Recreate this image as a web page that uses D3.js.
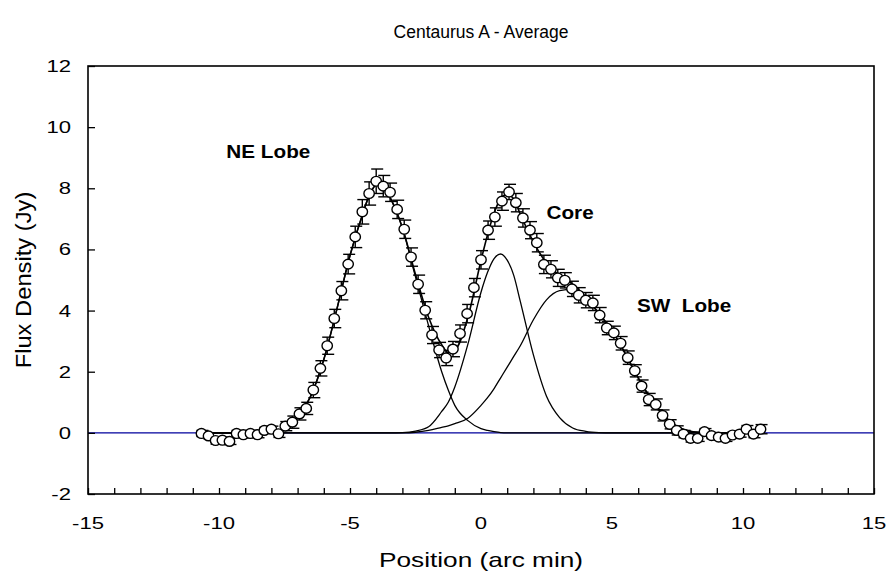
<!DOCTYPE html>
<html>
<head>
<meta charset="utf-8">
<script src="https://cdn.jsdelivr.net/npm/d3@7"></script>
<style>
  html, body { margin: 0; padding: 0; background: #fff; }
  text { font-family: "Liberation Sans", Arial, sans-serif; fill: #000; white-space: pre; }
</style>
</head>
<body>
<div id="chart"></div>
<script>
// measured positions (arc min)
const position = [
  -10.67, -10.40, -10.13, -9.87, -9.60, -9.33, -9.07, -8.80, -8.53, -8.27,
  -8.00, -7.73, -7.47, -7.20, -6.93, -6.67, -6.40, -6.13, -5.87, -5.60,
  -5.33, -5.07, -4.80, -4.53, -4.27, -4.00, -3.73, -3.47, -3.20, -2.93,
  -2.67, -2.40, -2.13, -1.87, -1.60, -1.33, -1.07, -0.80, -0.53, -0.27,
  0.00, 0.27, 0.53, 0.80, 1.07, 1.33, 1.60, 1.87, 2.13, 2.40,
  2.67, 2.93, 3.20, 3.47, 3.73, 4.00, 4.27, 4.53, 4.80, 5.07,
  5.33, 5.60, 5.87, 6.13, 6.40, 6.67, 6.93, 7.20, 7.47, 7.73,
  8.00, 8.27, 8.53, 8.80, 9.07, 9.33, 9.60, 9.87, 10.13, 10.40, 10.67
];
// measured flux density (Jy)
const flux = [
  -0.02, -0.10, -0.25, -0.24, -0.28, -0.02, -0.06, -0.02, -0.06, 0.08,
  0.12, -0.03, 0.22, 0.35, 0.62, 0.80, 1.40, 2.11, 2.85, 3.74,
  4.65, 5.52, 6.41, 7.23, 7.83, 8.23, 8.07, 7.87, 7.31, 6.66,
  5.75, 4.86, 4.01, 3.20, 2.71, 2.45, 2.74, 3.25, 3.90, 4.75,
  5.66, 6.63, 7.06, 7.58, 7.88, 7.53, 7.03, 6.63, 6.22, 5.51,
  5.35, 5.07, 4.99, 4.71, 4.50, 4.34, 4.25, 3.85, 3.43, 3.27,
  2.93, 2.46, 2.03, 1.53, 1.09, 0.93, 0.57, 0.28, 0.08, -0.04,
  -0.18, -0.18, 0.04, -0.09, -0.14, -0.18, -0.07, -0.04, 0.12, -0.04, 0.12
];
// error bars (Jy)
const fluxErr = [
  0.10, 0.10, 0.12, 0.10, 0.10, 0.10, 0.10, 0.10, 0.10, 0.10,
  0.10, 0.12, 0.15, 0.20, 0.20, 0.20, 0.25, 0.25, 0.28, 0.30,
  0.30, 0.32, 0.35, 0.40, 0.38, 0.40, 0.35, 0.30, 0.30, 0.30,
  0.30, 0.30, 0.28, 0.28, 0.25, 0.25, 0.25, 0.28, 0.30, 0.30,
  0.30, 0.30, 0.30, 0.30, 0.25, 0.30, 0.30, 0.28, 0.30, 0.30,
  0.28, 0.28, 0.25, 0.25, 0.25, 0.25, 0.25, 0.25, 0.22, 0.22,
  0.22, 0.22, 0.20, 0.20, 0.20, 0.18, 0.18, 0.15, 0.15, 0.12,
  0.12, 0.10, 0.10, 0.10, 0.10, 0.10, 0.10, 0.10, 0.12, 0.12, 0.15
];

// fitted curves
const fitX = [
  -10.7, -10, -9.5, -9, -8.5, -8, -7.5, -7, -6.5, -6, -5.5, -5, -4.5, -4.25, -4, -3.75, -3.5,
  -3, -2.5, -2, -1.5, -1.25, -1, -0.5, 0, 0.25, 0.5, 0.75, 1, 1.25, 1.5, 2, 2.5, 3, 3.5, 4, 4.5, 5,
  5.5, 6, 6.5, 7, 7.5, 8, 8.5, 9, 9.5, 10, 10.7
];
const fitTotal = [
  0, 0, 0, 0, 0.01, 0.04, 0.15, 0.5, 1.2, 2.4, 4.05, 5.8, 7.2, 7.8, 8.1, 8.1, 7.75,
  6.71, 5.18, 3.78, 2.88, 2.63, 2.7, 3.78, 5.64, 6.48, 7.19, 7.66, 7.8, 7.65, 7.15, 6.25, 5.55, 5.15, 4.86, 4.45, 3.91, 3.35,
  2.6, 1.8, 1.1, 0.55, 0.2, 0.05, 0.01, 0, 0, 0, 0
];
const fitNE = [
  0, 0, 0, 0, 0.01, 0.04, 0.15, 0.5, 1.2, 2.4, 4.05, 5.8, 7.2, 7.8, 8.1, 8.1, 7.75,
  6.7, 5.1, 3.5, 2.0, 1.4, 0.9, 0.4, 0.14, 0.08, 0.04, 0.01, 0, 0, 0, 0, 0, 0, 0, 0, 0, 0,
  0, 0, 0, 0, 0, 0, 0, 0, 0, 0, 0
];
const fitCore = [
  0, 0, 0, 0, 0, 0, 0, 0, 0, 0, 0, 0, 0, 0, 0, 0, 0,
  0.01, 0.06, 0.2, 0.7, 1.0, 1.5, 2.9, 4.6, 5.25, 5.7, 5.85, 5.65, 5.15, 4.3, 2.55, 1.2, 0.5, 0.16, 0.05, 0.01, 0,
  0, 0, 0, 0, 0, 0, 0, 0, 0, 0, 0
];
const fitSW = [
  0, 0, 0, 0, 0, 0, 0, 0, 0, 0, 0, 0, 0, 0, 0, 0, 0,
  0, 0.02, 0.08, 0.18, 0.23, 0.3, 0.48, 0.9, 1.15, 1.45, 1.8, 2.15, 2.5, 2.85, 3.7, 4.35, 4.65, 4.7, 4.4, 3.9, 3.35,
  2.6, 1.8, 1.1, 0.55, 0.2, 0.05, 0.01, 0, 0, 0, 0
];

const xTicks = [-15, -10, -5, 0, 5, 10, 15];
const yTicks = [-2, 0, 2, 4, 6, 8, 10, 12];
const labels = [
  { text: "NE Lobe", x: -9.72, y: 9.0 },
  { text: "Core", x: 2.5, y: 7.0 },
  { text: "SW  Lobe", x: 5.95, y: 3.95 }
];

const width = 889;
const height = 577;
const margin = { top: 66, right: 15, bottom: 83, left: 88 };
const innerW = 874 - margin.left;
const innerH = 494 - margin.top;

const svg = d3
  .select("#chart")
  .append("svg")
  .attr("width", width)
  .attr("height", height);

const x = d3.scaleLinear().domain([-15, 15]).range([margin.left, margin.left + innerW]);
const y = d3.scaleLinear().domain([-2, 12]).range([margin.top + innerH, margin.top]);

// stretched text helper (the original lettering is wide)
function label(parent, px, py, str, opt) {
  const g = parent
    .append("g")
    .attr("transform", `translate(${px},${py}) rotate(${opt.rotate || 0}) scale(${opt.sx || 1},1)`);
  g.append("text")
    .attr("text-anchor", opt.anchor || "start")
    .style("font-size", opt.size + "px")
    .style("font-weight", opt.weight || "normal")
    .text(str);
}

// zero line
svg
  .append("line")
  .attr("x1", x(-15))
  .attr("x2", x(15))
  .attr("y1", y(0))
  .attr("y2", y(0))
  .attr("stroke", "#00009c")
  .attr("stroke-width", 1.3);

// axes (ticks point inward)
svg
  .append("g")
  .attr("transform", `translate(0,${y(-2)})`)
  .call(d3.axisBottom(x).tickValues(d3.range(-15, 16, 1)).tickSize(-6).tickFormat(""))
  .call((g) => g.select(".domain").remove())
  .call((g) => g.selectAll("line").attr("stroke", "#000").attr("stroke-width", 1.3));

svg
  .append("g")
  .attr("transform", `translate(${x(-15)},0)`)
  .call(d3.axisLeft(y).tickValues(yTicks).tickSize(-7).tickFormat(""))
  .call((g) => g.select(".domain").remove())
  .call((g) => g.selectAll("line").attr("stroke", "#000").attr("stroke-width", 1.3));

// frame
svg
  .append("rect")
  .attr("x", x(-15))
  .attr("y", y(12))
  .attr("width", x(15) - x(-15))
  .attr("height", y(-2) - y(12))
  .attr("fill", "none")
  .attr("stroke", "#000")
  .attr("stroke-width", 1.6);

// tick labels
xTicks.forEach((t) => label(svg, x(t), 529, String(t), { size: 17, sx: 1.3, anchor: "middle" }));
yTicks.forEach((t) => label(svg, 71, y(t) + 6, String(t), { size: 17, sx: 1.3, anchor: "end" }));

// fitted curves
const line = d3
  .line()
  .x((d) => x(d[0]))
  .y((d) => y(d[1]))
  .curve(d3.curveMonotoneX);

[fitNE, fitCore, fitSW, fitTotal].forEach((vals, i) => {
  svg
    .append("path")
    .datum(fitX.map((v, j) => [v, vals[j]]))
    .attr("d", line)
    .attr("fill", "none")
    .attr("stroke", "#000")
    .attr("stroke-width", i === 3 ? 1.6 : 1.3);
});

// error bars
const pts = position.map((p, i) => ({ x: p, y: flux[i], e: fluxErr[i] }));
const bars = svg.append("g").attr("stroke", "#000").attr("stroke-width", 1.4);
bars
  .selectAll("line.v")
  .data(pts)
  .enter()
  .append("line")
  .attr("class", "v")
  .attr("x1", (d) => x(d.x))
  .attr("x2", (d) => x(d.x))
  .attr("y1", (d) => y(d.y - d.e))
  .attr("y2", (d) => y(d.y + d.e));
["top", "bot"].forEach((side) => {
  bars
    .selectAll("line." + side)
    .data(pts)
    .enter()
    .append("line")
    .attr("class", side)
    .attr("x1", (d) => x(d.x) - 5)
    .attr("x2", (d) => x(d.x) + 7)
    .attr("y1", (d) => y(side === "top" ? d.y + d.e : d.y - d.e))
    .attr("y2", (d) => y(side === "top" ? d.y + d.e : d.y - d.e));
});

// data points
svg
  .append("g")
  .selectAll("ellipse")
  .data(pts)
  .enter()
  .append("ellipse")
  .attr("cx", (d) => x(d.x))
  .attr("cy", (d) => y(d.y))
  .attr("rx", 5.2)
  .attr("ry", 4.9)
  .attr("fill", "#fff")
  .attr("stroke", "#000")
  .attr("stroke-width", 1.4);

// annotations
labels.forEach((l) => label(svg, x(l.x), y(l.y), l.text, { size: 18.5, sx: 1.12, weight: "bold" }));

// titles
label(svg, 481, 38, "Centaurus A - Average", { size: 17.5, anchor: "middle" });
label(svg, 481, 567, "Position (arc min)", { size: 21, sx: 1.25, anchor: "middle" });
label(svg, 31, 280, "Flux Density (Jy)", { size: 22, sx: 1.08, anchor: "middle", rotate: -90 });
</script>
</body>
</html>
